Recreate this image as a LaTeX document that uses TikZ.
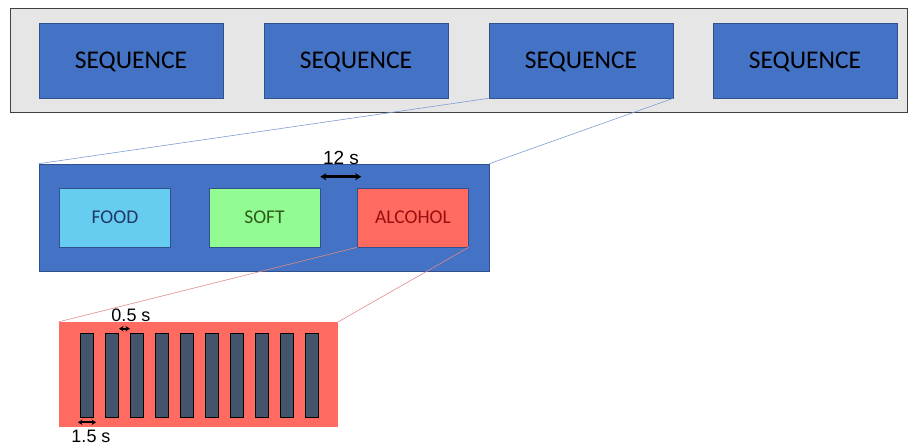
\documentclass[tikz,border=0pt]{standalone}
\usepackage{fontspec}
\setmainfont{Carlito}
\newfontfamily\arialf{Liberation Sans}
\usetikzlibrary{arrows.meta}
\definecolor{seqblue}{HTML}{4472C4}
\definecolor{seqedge}{HTML}{2F528F}
\definecolor{bggray}{HTML}{E6E6E6}
\definecolor{foodc}{HTML}{66CDF0}
\definecolor{softc}{HTML}{92FC92}
\definecolor{alcc}{HTML}{FF6B61}
\definecolor{barc}{HTML}{44546A}
\definecolor{foodt}{HTML}{1F3864}
\definecolor{softt}{HTML}{2E5A1E}
\definecolor{alct}{HTML}{9A0E0E}
\definecolor{bluel}{HTML}{7E9CD4}
\definecolor{redl}{HTML}{E08A8A}
\tikzset{
  seqbox/.style={draw=seqedge, fill=seqblue, line width=0.6pt, minimum width=184pt, minimum height=75pt, inner sep=0pt, text depth=0pt, font=\fontsize{25.5}{28}\selectfont},
  catbox/.style={draw=seqedge, line width=0.6pt, minimum width=111pt, minimum height=59pt, inner sep=0pt, text depth=0pt, font=\fontsize{19.5}{22}\selectfont},
  barbox/.style={draw=black, fill=barc, line width=0.6pt, minimum width=13.5pt, minimum height=84pt, inner sep=0pt},
  dimarrow/.style={{Stealth[length=6pt,width=7pt]}-{Stealth[length=6pt,width=7pt]}, line width=2.6pt},
  smallarrow/.style={{Stealth[length=4.5pt,width=5.5pt]}-{Stealth[length=4.5pt,width=5.5pt]}, line width=1.8pt},
  dimlabel/.style={font=\arialf\fontsize{19}{21}\selectfont, inner sep=0pt},
  smalllabel/.style={font=\arialf\fontsize{18}{20}\selectfont, inner sep=0pt},
  zoomblue/.style={draw=bluel, line width=0.6pt},
  zoomred/.style={draw=redl, line width=0.6pt}
}
\begin{document}
\begin{tikzpicture}[x=1pt,y=-1pt]
\useasboundingbox (0,0) rectangle (914,446);
% top strip
\node[draw=black!75, fill=bggray, line width=0.8pt, minimum width=897pt, minimum height=104pt, inner sep=0pt] (strip) at (458.5,60) {};
\node[seqbox] (s1) at (131,60.5) {SEQUENCE};
\node[seqbox] (s2) at (356,60.5) {SEQUENCE};
\node[seqbox] (s3) at (581,60.5) {SEQUENCE};
\node[seqbox] (s4) at (805,60.5) {SEQUENCE};
% middle
\node[draw=seqedge, fill=seqblue, line width=0.6pt, minimum width=450pt, minimum height=107pt, inner sep=0pt] (mid) at (264,217.5) {};
\draw[zoomblue] (s3.south west) -- (mid.north west);
\draw[zoomblue] (s3.south east) -- (mid.north east);
\node[catbox, fill=foodc, text=foodt] (food) at (115,217.5) {FOOD};
\node[catbox, fill=softc, text=softt] (soft) at (264.5,217.5) {SOFT};
\node[catbox, fill=alcc, text=alct] (alc) at (413,217.5) {ALCOHOL};
\draw[dimarrow] ([yshift=11pt]soft.north east) -- ([xshift=4pt,yshift=11pt]alc.north west);
\node[dimlabel] (l12) at (341,158) {12 s};
% bottom
\node[fill=alcc, minimum width=279pt, minimum height=105pt, inner sep=0pt] (red) at (198.5,374.5) {};
\draw[zoomred] (alc.south west) -- (red.north west);
\draw[zoomred] (alc.south east) -- (red.north east);
\foreach \i in {1,...,10} {
  \node[barbox] (b\i) at ({87+25*(\i-1)},375) {};
}
\draw[smallarrow] ([yshift=4pt]b2.north east) -- ([yshift=4pt]b3.north west);
\node[smalllabel] (l05) at (131,315) {0.5 s};
\draw[smallarrow] ([xshift=-2pt,yshift=-5pt]b1.south west) -- ([xshift=2pt,yshift=-5pt]b1.south east);
\node[smalllabel] (l15) at (91,436) {1.5 s};
\end{tikzpicture}
\end{document}
